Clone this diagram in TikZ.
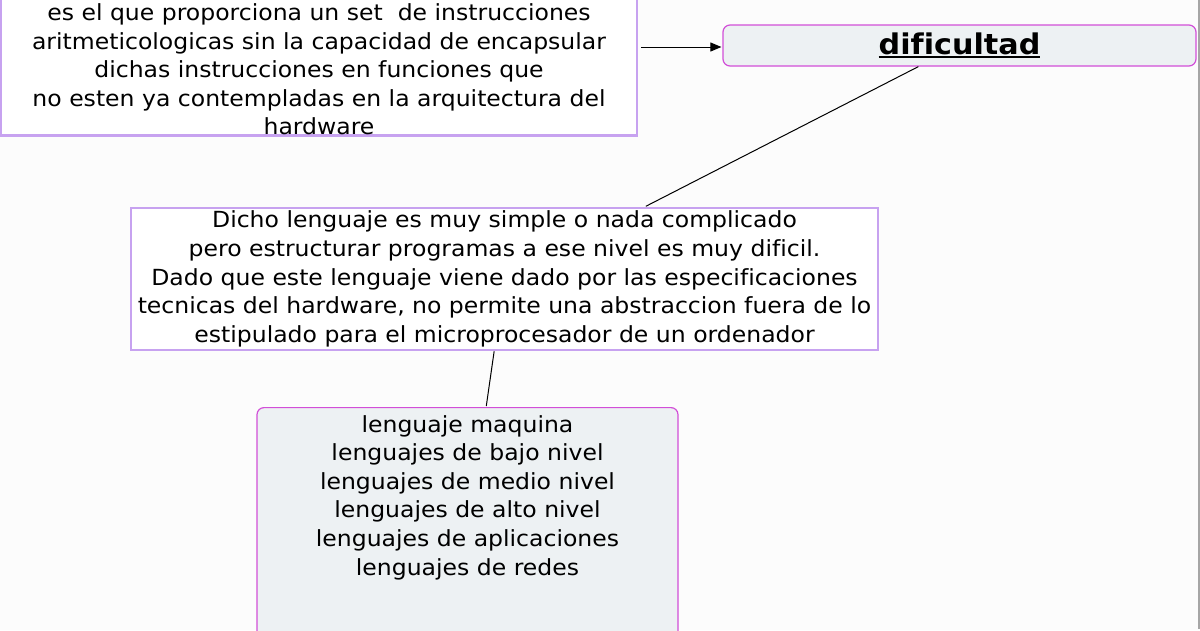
\documentclass[tikz,border=0pt]{standalone}
\usepackage{fontspec}
\setmainfont{DejaVu Sans}[FakeStretch=1.06,Ligatures={NoCommon}]
\newlength\anchosub
\newcommand\subrayado[1]{\settowidth\anchosub{#1}\rlap{\rule[-3.5pt]{\anchosub}{2pt}}#1}
\usetikzlibrary{arrows.meta,positioning}
\definecolor{lila}{HTML}{C7A2F0}
\definecolor{rosa}{HTML}{D24FD8}
\definecolor{gris}{HTML}{EDF1F3}
\definecolor{fondo}{HTML}{FCFCFC}

\begin{document}
\begin{tikzpicture}[x=1pt,y=-1pt,>={Triangle[length=11pt,width=9pt]},shorten >=1pt,font=\fontsize{22.2}{28.6}\selectfont]
\tikzstyle{cuadro}=[draw=lila,line width=2.5pt,fill=white,inner sep=0pt,align=center]
\tikzstyle{nube}=[draw=rosa,line width=1.2pt,fill=gris,rounded corners=7pt,inner sep=0pt,align=center]
\tikzstyle{texto}=[align=center,inner sep=0pt]
\tikzstyle{enlace}=[line width=1pt,black]
\useasboundingbox (0,0) rectangle (1200,630);
\fill[fondo] (0,0) rectangle (1200,630);
\draw[gray!70,line width=1.5pt] (1199,0) -- (1199,630);
\node[cuadro,minimum width=636pt,minimum height=170pt,anchor=south] (sinfun) at (319,136.5) {};
\node[texto,above=1pt of sinfun.south] (sinfuntxt) {es el que proporciona un set\ \ de instrucciones\\
aritmeticologicas sin la capacidad de encapsular\\
dichas instrucciones en funciones que\\
no esten ya contempladas en la arquitectura del\\
hardware};
\node[nube,minimum width=473pt,minimum height=41pt,font=\fontsize{28.5}{34}\selectfont\bfseries] (dif) at (959.5,45.5) {\subrayado{dificultad}};
\node[cuadro,minimum width=747pt,minimum height=142pt] (dicho) at (504.5,279) {Dicho lenguaje es muy simple o nada complicado\\
pero estructurar programas a ese nivel es muy dificil.\\
Dado que este lenguaje viene dado por las especificaciones\ \ \\
tecnicas del hardware, no permite una abstraccion fuera de lo\\
estipulado para el microprocesador de un ordenador};
\node[nube,minimum width=421pt,minimum height=260pt,anchor=north] (niveles) at (467.5,407) {};
\node[texto,below=8pt of niveles.north] (nivelestxt) {lenguaje maquina\\
lenguajes de bajo nivel\\
lenguajes de medio nivel\\
lenguajes de alto nivel\\
lenguajes de aplicaciones\\
lenguajes de redes};
\draw[enlace,->,shorten <=3pt] (sinfun.east |- 0,47) -- (dif.west |- 0,47);
\draw[enlace] (dif) -- (dicho);
\draw[enlace] (dicho) -- (niveles);
\end{tikzpicture}
\end{document}
